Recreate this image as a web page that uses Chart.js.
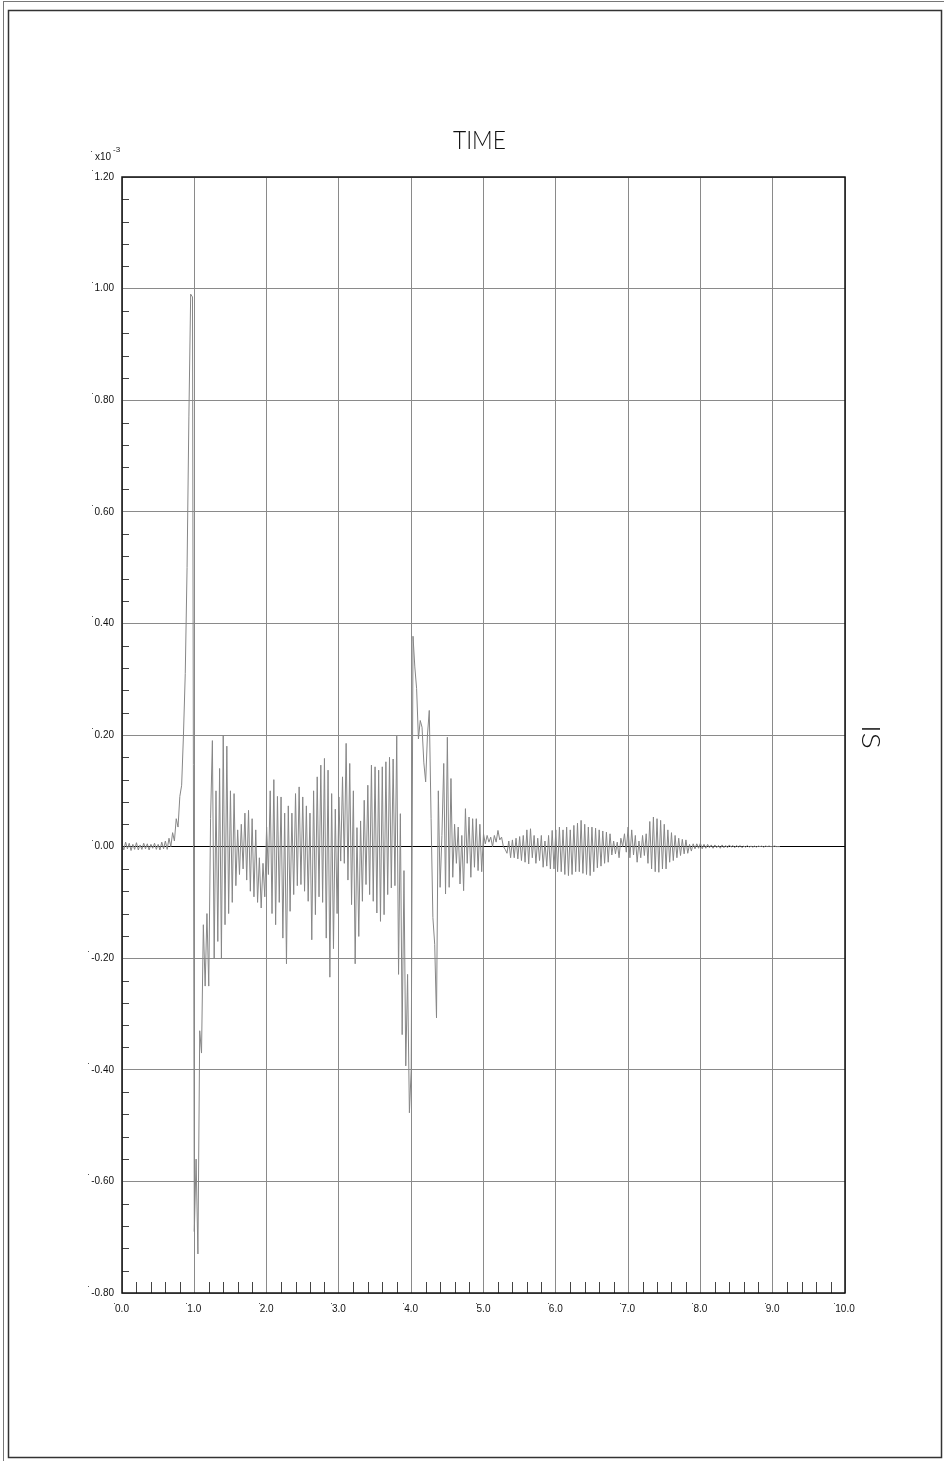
<!DOCTYPE html>
<html>
<head>
<meta charset="utf-8">
<script src="https://cdn.jsdelivr.net/npm/chart.js@4.4.1/dist/chart.umd.min.js"></script>
<style>
  html, body { margin: 0; padding: 0; background: #fff; }
  canvas { display: block; }
</style>
</head>
<body>
<canvas id="trace" width="944" height="1461"></canvas>
<script>
// trace samples, amplitude in units of 1e-3, one sample every 0.025 s
const sampleInterval = 0.025;
const amplitude = [
  0.005,-0.006,0.008,-0.004,0.006,-0.007,0.004,-0.005,0.007,-0.006,0.003,-0.005,0.006,-0.004,0.005,-0.006,0.004,-0.003,0.006,-0.005,
  0.004,-0.006,0.008,-0.004,0.01,-0.005,0.015,0.0,0.025,0.01,0.05,0.035,0.09,0.11,0.2,0.31,0.5,0.77,0.99,0.985,
  -0.69,-0.56,-0.73,-0.33,-0.37,-0.14,-0.25,-0.12,-0.25,0.05,0.19,-0.2,0.1,-0.17,0.14,-0.2,0.2,-0.14,0.18,-0.12,
  0.1,-0.1,0.095,-0.07,0.03,-0.05,0.04,-0.04,0.06,-0.06,0.065,-0.08,0.05,-0.09,0.03,-0.1,-0.02,-0.11,-0.03,-0.09,
  0.035,-0.05,0.1,-0.12,0.12,-0.14,0.09,-0.1,0.089,-0.164,0.06,-0.21,0.073,-0.116,0.06,-0.086,0.095,-0.07,0.107,-0.068,
  0.089,-0.08,0.073,-0.098,0.06,-0.167,0.1,-0.122,0.125,-0.09,0.146,-0.1,0.158,-0.164,0.137,-0.234,0.095,-0.183,0.067,-0.12,
  0.089,-0.026,0.125,-0.03,0.185,-0.06,0.149,-0.104,0.1,-0.21,0.034,-0.161,0.046,-0.098,0.083,-0.068,0.11,-0.086,0.146,-0.098,
  0.143,-0.119,0.137,-0.134,0.143,-0.122,0.152,-0.086,0.16,-0.074,0.157,-0.07,0.198,-0.229,0.059,-0.337,-0.043,-0.393,-0.229,-0.477,
  -0.4,0.377,0.322,0.283,0.193,0.226,0.214,0.15,0.116,0.2,0.244,0.05,-0.127,-0.175,-0.307,0.1,-0.073,0.02,0.149,-0.085,
  0.196,-0.073,0.122,-0.055,0.04,-0.03,0.035,-0.067,0.02,-0.079,0.068,-0.03,0.053,-0.055,0.05,-0.037,0.05,-0.043,0.04,-0.045,
  0.023,0.005,0.02,0.008,0.017,0.0,0.02,0.008,0.029,0.012,0.017,0.0,-0.005,-0.012,0.01,-0.02,0.012,-0.02,0.015,-0.022,
  0.018,-0.025,0.02,-0.028,0.03,-0.031,0.032,-0.02,0.02,-0.03,0.015,-0.025,0.02,-0.037,0.01,-0.035,0.02,-0.04,0.029,-0.04,
  0.03,-0.045,0.035,-0.045,0.03,-0.05,0.035,-0.052,0.03,-0.05,0.038,-0.045,0.042,-0.045,0.047,-0.048,0.04,-0.05,0.035,-0.052,
  0.035,-0.045,0.033,-0.038,0.03,-0.035,0.028,-0.03,0.026,-0.028,0.023,-0.015,0.01,-0.013,0.008,-0.02,0.015,0.0,0.023,-0.01,
  0.035,-0.02,0.03,-0.015,0.02,-0.028,0.01,-0.02,0.02,-0.016,0.023,-0.03,0.045,-0.04,0.053,-0.045,0.05,-0.046,0.047,-0.04,
  0.04,-0.04,0.03,-0.028,0.025,-0.025,0.02,-0.02,0.015,-0.016,0.013,-0.013,0.012,-0.012,0.004,-0.008,0.005,-0.004,0.005,-0.003,
  0.006,-0.004,0.004,-0.003,0.004,-0.002,0.003,-0.003,0.003,-0.002,0.002,-0.003,0.003,-0.002,0.002,-0.002,0.003,-0.001,0.002,-0.002,
  0.002,-0.001,0.002,-0.002,0.001,-0.001,0.002,-0.001,0.001,-0.001,0.001,-0.001,0.001,0,0.001,-0.001,0.001,0,0.001,0,
  0,0.001,0,0,0
];

const xTickLabels = ["0.0","1.0","2.0","3.0","4.0","5.0","6.0","7.0","8.0","9.0","10.0"];
const yTickLabels = ["-0.80","-0.60","-0.40","-0.20","0.00","0.20","0.40","0.60","0.80","1.00","1.20"];
const titleText = "TIME";
const sideText = "IS";
const scaleText = "x10";
const scaleExponent = "-3";

const points = amplitude.map((v, i) => ({ x: i * sampleInterval, y: v }));

const labelFont = '10px "Liberation Sans", Arial, sans-serif';

// frame, minor ticks and the plot texts
const decorations = {
  id: 'decorations',
  afterDraw(chart) {
    const ctx = chart.ctx;
    const area = chart.chartArea;
    const xs = chart.scales.x;
    const ys = chart.scales.y;
    ctx.save();

    // page frame
    ctx.strokeStyle = '#777';
    ctx.lineWidth = 1;
    ctx.strokeRect(3.5, 1.5, 945, 1470);
    ctx.strokeStyle = '#333';
    ctx.lineWidth = 1.5;
    ctx.strokeRect(8.5, 10.5, 933, 1447);

    // minor ticks
    ctx.beginPath();
    ctx.strokeStyle = '#444';
    ctx.lineWidth = 1;
    for (let k = 1; k < 50; k++) {
      if (k % 5 === 0) continue;
      const y = Math.round(ys.getPixelForValue(-0.8 + k * 0.04)) + 0.5;
      ctx.moveTo(area.left, y);
      ctx.lineTo(area.left + 7, y);
      const x = Math.round(xs.getPixelForValue(k * 0.2)) + 0.5;
      ctx.moveTo(x, area.bottom);
      ctx.lineTo(x, area.bottom - 11);
    }
    ctx.stroke();

    // plot box
    ctx.strokeStyle = '#111';
    ctx.lineWidth = 1.5;
    ctx.strokeRect(area.left, area.top, area.right - area.left, area.bottom - area.top);

    // little origin dots in front of tick labels
    ctx.fillStyle = '#555';
    ctx.font = labelFont;
    ys.ticks.forEach((t, i) => {
      const w = ctx.measureText(yTickLabels[i]).width;
      const y = ys.getPixelForValue(t.value);
      ctx.fillRect(Math.round(area.left - 8 - w - 3), Math.round(y - 7), 1, 1);
    });
    xs.ticks.forEach((t, i) => {
      const w = ctx.measureText(xTickLabels[i]).width;
      const x = xs.getPixelForValue(t.value);
      ctx.fillRect(Math.round(x - w / 2 - 1), Math.round(area.bottom + 10), 1, 1);
    });

    // exponent marker above the y axis
    ctx.fillStyle = '#111';
    ctx.textAlign = 'left';
    ctx.textBaseline = 'alphabetic';
    ctx.font = labelFont;
    ctx.fillText(scaleText, 95, 160);
    ctx.font = '8px "Liberation Sans", Arial, sans-serif';
    ctx.fillText(scaleExponent, 113, 152);
    ctx.fillStyle = '#555';
    ctx.fillRect(91, 151, 1, 1);

    // title and side label in a thin font
    ctx.fillStyle = '#111';
    ctx.font = '300 26px Lato, "DejaVu Sans", sans-serif';
    ctx.textAlign = 'center';
    const tw = ctx.measureText(titleText).width;
    ctx.save();
    ctx.translate(479.5, 149);
    ctx.scale(53 / tw, 1);
    ctx.fillText(titleText, 0, 0);
    ctx.restore();

    ctx.save();
    ctx.translate(862, 737);
    ctx.rotate(Math.PI / 2);
    const sw = ctx.measureText(sideText).width;
    ctx.scale(24 / sw, 1);
    ctx.fillText(sideText, 0, 0);
    ctx.restore();

    ctx.restore();
  }
};

new Chart(document.getElementById('trace'), {
  type: 'line',
  data: {
    datasets: [{
      data: points,
      borderColor: '#868686',
      borderWidth: 1,
      pointRadius: 0,
      tension: 0,
      fill: false
    }]
  },
  options: {
    responsive: false,
    animation: false,
    events: [],
    layout: { padding: { left: 10, top: 177, right: 99, bottom: 100 } },
    plugins: { legend: { display: false }, tooltip: { enabled: false }, title: { display: false } },
    scales: {
      x: {
        type: 'linear',
        min: 0,
        max: 10,
        afterFit: s => { s.height = 68; },
        ticks: {
          stepSize: 1,
          padding: 10,
          color: '#111',
          font: { family: '"Liberation Sans", Arial, sans-serif', size: 10 },
          maxRotation: 0,
          autoSkip: false,
          callback: (v, i) => xTickLabels[i]
        },
        grid: { color: '#8a8a8a', lineWidth: 1, drawTicks: false },
        border: { display: false }
      },
      y: {
        min: -0.8,
        max: 1.2,
        afterFit: s => { s.width = 112; },
        ticks: {
          stepSize: 0.2,
          padding: 8,
          color: '#111',
          font: { family: '"Liberation Sans", Arial, sans-serif', size: 10 },
          autoSkip: false,
          callback: (v, i) => yTickLabels[i]
        },
        grid: {
          color: c => (c.tick && Math.abs(c.tick.value) < 1e-9) ? '#000' : '#8a8a8a',
          lineWidth: 1,
          drawTicks: false
        },
        border: { display: false }
      }
    }
  },
  plugins: [decorations]
});
</script>
</body>
</html>
